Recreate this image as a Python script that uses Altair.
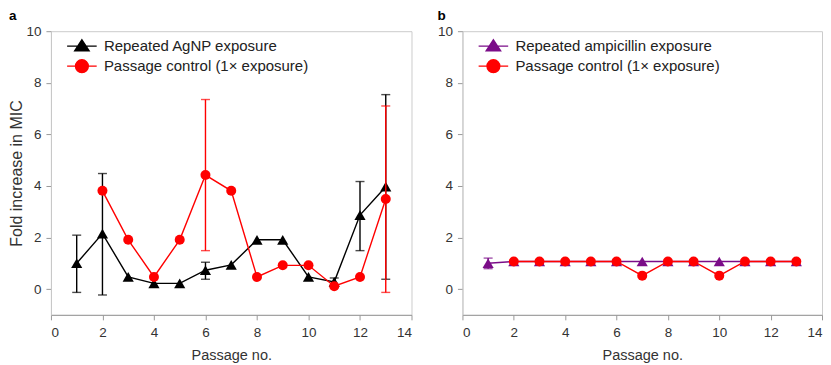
import altair as alt
import pandas as pd

# ---------------- data ----------------
agnp_name = "Repeated AgNP exposure"
ctrl_name = "Passage control (1× exposure)"
amp_name = "Repeated ampicillin exposure"

# Panel a: repeated AgNP exposure
agnp_x = [1, 2, 3, 4, 5, 6, 7, 8, 9, 10, 11, 12, 13]
agnp_mean = [1.00, 2.15, 0.47, 0.22, 0.22, 0.73, 0.94, 1.91, 1.91, 0.47, 0.28, 2.87, 3.97]
agnp_err_x = [1, 2, 6, 11, 12, 13]
agnp_err_lo = [-0.13, -0.23, 0.38, 0.10, 1.49, 0.38]
agnp_err_hi = [2.09, 4.48, 1.04, 0.43, 4.17, 7.54]

# Panel a: passage control
ctrl_a_x = [2, 3, 4, 5, 6, 7, 8, 9, 10, 11, 12, 13]
ctrl_a_mean = [3.81, 1.91, 0.47, 1.91, 4.42, 3.81, 0.47, 0.92, 0.92, 0.11, 0.47, 3.49]
ctrl_a_err_x = [6, 13]
ctrl_a_err_lo = [1.49, -0.13]
ctrl_a_err_hi = [7.35, 7.10]

# Panel b: repeated ampicillin exposure
amp_x = [1, 2, 3, 4, 5, 6, 7, 8, 9, 10, 11, 12, 13]
amp_mean = [1.00, 1.07, 1.07, 1.07, 1.07, 1.07, 1.07, 1.07, 1.07, 1.07, 1.07, 1.07, 1.07]
amp_err_x = [1]
amp_err_lo = [0.79]
amp_err_hi = [1.20]

# Panel b: passage control
ctrl_b_x = [2, 3, 4, 5, 6, 7, 8, 9, 10, 11, 12, 13]
ctrl_b_mean = [1.07, 1.07, 1.07, 1.07, 1.07, 0.52, 1.07, 1.07, 0.52, 1.07, 1.07, 1.07]

x_ticks = [0, 2, 4, 6, 8, 10, 12, 14]
y_ticks = [0, 2, 4, 6, 8, 10]

BLACK = "#000000"
RED = "#FF0000"
PURPLE = "#7B0C88"

TRI_PATH = "M-1.85,0H1.85M0,-0.8L0.9,0.58L-0.9,0.58Z"
CIRC_PATH = "M-1.85,0H1.85M0.8,0A0.8,0.8,0,1,1,-0.8,0A0.8,0.8,0,1,1,0.8,0Z"

FONT = "Liberation Sans"
LW = 1.4

xscale = alt.Scale(domain=[0, 14], nice=False, zero=False)
yscale = alt.Scale(domain=[-1, 10], nice=False, zero=False)


def X(field="passage"):
    return alt.X(f"{field}:Q", scale=xscale,
                 axis=alt.Axis(values=x_ticks, title="Passage no."))


def Y(field, ytitle):
    return alt.Y(f"{field}:Q", scale=yscale,
                 axis=alt.Axis(values=y_ticks, title=ytitle))


def series_layers(xs, ys, ex, elo, ehi, color, shape, size, ytitle):
    d = pd.DataFrame({"passage": xs, "value": ys})
    layers = [alt.Chart(d).mark_line(color=color, strokeWidth=LW).encode(
        x=X(), y=Y("value", ytitle))]
    if ex:
        e = pd.DataFrame({"passage": ex, "lo": elo, "hi": ehi})
        layers.append(alt.Chart(e).mark_rule(color=color, strokeWidth=LW).encode(
            x=X(), y=Y("lo", ytitle), y2="hi:Q"))
        for f in ("lo", "hi"):
            layers.append(alt.Chart(e).mark_tick(
                color=color, size=9, thickness=LW, orient="horizontal").encode(
                x=X(), y=Y(f, ytitle)))
    layers.append(alt.Chart(d).mark_point(
        filled=True, shape=shape, size=size, color=color, opacity=1).encode(
        x=X(), y=Y("value", ytitle)))
    return layers


def legend_layer(names, colors, paths, xs_list, ys_list, ytitle):
    rows = []
    for n, xs, ys in zip(names, xs_list, ys_list):
        for xv, yv in zip(xs, ys):
            rows.append({"passage": xv, "value": yv, "series": n})
    d = pd.DataFrame(rows)
    leg = alt.Legend(title=None, orient="none", legendX=22, legendY=6,
                     symbolSize=256, symbolStrokeWidth=1.4, symbolOpacity=1,
                     symbolFillColor="#000000",
                     labelFontSize=15, labelLimit=500,
                     labelFont=FONT, labelColor="#222", labelOffset=13,
                     rowPadding=2, padding=0)
    return alt.Chart(d).mark_point(filled=True, opacity=0).encode(
        x=X(), y=Y("value", ytitle),
        fill=alt.Fill("series:N", scale=alt.Scale(domain=names, range=colors), legend=leg),
        stroke=alt.Stroke("series:N", scale=alt.Scale(domain=names, range=colors), legend=leg),
        shape=alt.Shape("series:N", scale=alt.Scale(domain=names, range=paths), legend=leg),
    )


def title(t):
    return alt.TitleParams(t, anchor="start", fontSize=13.5, fontWeight="bold",
                           font=FONT, color="#000", offset=2)


yt_a = "Fold increase in MIC"
panel_a = alt.layer(
    *series_layers(agnp_x, agnp_mean, agnp_err_x, agnp_err_lo, agnp_err_hi,
                   BLACK, "triangle-up", 125, yt_a),
    *series_layers(ctrl_a_x, ctrl_a_mean, ctrl_a_err_x, ctrl_a_err_lo, ctrl_a_err_hi,
                   RED, "circle", 100, yt_a),
    legend_layer([agnp_name, ctrl_name], [BLACK, RED], [TRI_PATH, CIRC_PATH],
                 [agnp_x, ctrl_a_x], [agnp_mean, ctrl_a_mean], yt_a),
).properties(width=361, height=284, title=title("a"))

yt_b = None
panel_b = alt.layer(
    *series_layers(amp_x, amp_mean, amp_err_x, amp_err_lo, amp_err_hi,
                   PURPLE, "triangle-up", 125, yt_b),
    *series_layers(ctrl_b_x, ctrl_b_mean, [], [], [],
                   RED, "circle", 100, yt_b),
    legend_layer([amp_name, ctrl_name], [PURPLE, RED], [TRI_PATH, CIRC_PATH],
                 [amp_x, ctrl_b_x], [amp_mean, ctrl_b_mean], yt_b),
).properties(width=360, height=284, title=title("b"))

chart = alt.hconcat(panel_a, panel_b, spacing=24).resolve_scale(
    fill="independent", stroke="independent", shape="independent"
).properties(padding=0).configure_view(
    stroke="#cccccc", strokeWidth=1
).configure_axis(
    grid=False, labelFont=FONT, titleFont=FONT, labelFontSize=13.5, titleFontSize=14.5,
    titleFontWeight="normal", labelColor="#333", titleColor="#333",
    tickSize=5, tickColor="#999", labelPadding=5,
).configure_axisX(
    domainColor="#999", titlePadding=9, labelPadding=6,
).configure_axisY(
    domainColor="#c8c8c8", titlePadding=1, titleFontSize=16,
)

chart.save("out.html", embed_options={"renderer": "svg", "actions": False})
